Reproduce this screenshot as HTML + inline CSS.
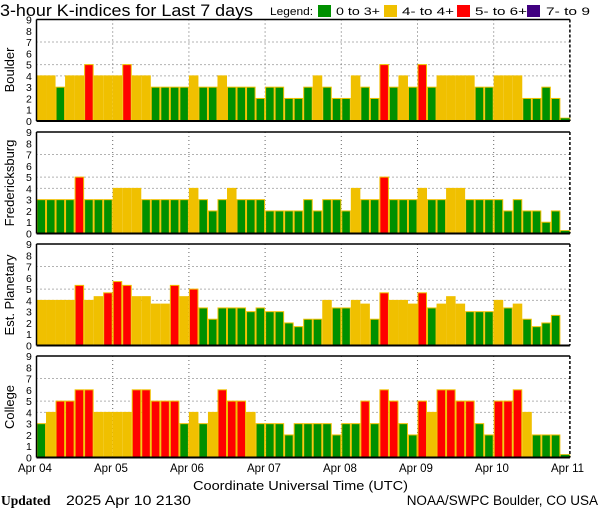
<!DOCTYPE html>
<html><head><meta charset="utf-8"><style>
body{margin:0;background:#fff;width:600px;height:510px;overflow:hidden}
svg{display:block}
text{font-family:"Liberation Sans",sans-serif;fill:#000}
</style></head><body>
<svg id="s" width="600" height="510" xmlns="http://www.w3.org/2000/svg">
<rect width="600" height="510" fill="#fff"/>
<text x="0" y="16" font-size="16.5" textLength="253" lengthAdjust="spacingAndGlyphs">3-hour K-indices for Last 7 days</text>
<text x="270" y="15" font-size="11" textLength="43" lengthAdjust="spacingAndGlyphs">Legend:</text>
<rect x="318" y="5" width="13" height="12" fill="#009000"/>
<text x="336" y="15" font-size="11" textLength="44" lengthAdjust="spacingAndGlyphs">0 to 3+</text>
<rect x="384" y="5" width="13" height="12" fill="#f0c000"/>
<text x="402" y="15" font-size="11" textLength="52" lengthAdjust="spacingAndGlyphs">4- to 4+</text>
<rect x="457" y="5" width="13" height="12" fill="#ff0000"/>
<text x="475" y="15" font-size="11" textLength="52" lengthAdjust="spacingAndGlyphs">5- to 6+</text>
<rect x="527" y="5" width="13" height="12" fill="#400080"/>
<text x="546" y="15" font-size="11" textLength="44" lengthAdjust="spacingAndGlyphs">7- to 9</text>
<g id="g"></g>
<g font-size="11.5">
<text x="18" y="472">Apr 04</text><text x="94" y="472">Apr 05</text><text x="170" y="472">Apr 06</text><text x="247" y="472">Apr 07</text><text x="323" y="472">Apr 08</text><text x="399" y="472">Apr 09</text><text x="475" y="472">Apr 10</text><text x="551" y="472">Apr 11</text>
</g>
<text x="193" y="490" font-size="13" textLength="215" lengthAdjust="spacingAndGlyphs">Coordinate Universal Time (UTC)</text>
<text x="1" y="505" font-size="13.5" font-weight="bold" style="font-family:'Liberation Serif',serif">Updated</text>
<text x="66" y="505" font-size="13.5" textLength="125" lengthAdjust="spacingAndGlyphs">2025 Apr 10 2130</text>
<text x="598" y="505" font-size="13.5" text-anchor="end">NOAA/SWPC Boulder, CO USA</text>
<text transform="translate(14,70) rotate(-90)" font-size="13" text-anchor="middle">Boulder</text>
<text transform="translate(14,183) rotate(-90)" font-size="13" text-anchor="middle">Fredericksburg</text>
<text transform="translate(14,295) rotate(-90)" font-size="13" text-anchor="middle">Est. Planetary</text>
<text transform="translate(14,407) rotate(-90)" font-size="13" text-anchor="middle">College</text>
</svg>
<script>
var data=[
[4,4,3,4,4,5,4,4, 4,5,4,4,3,3,3,3, 4,3,3,4,3,3,3,2, 3,3,2,2,3,4,3,2, 2,4,3,2,5,3,4,3, 5,3,4,4,4,4,3,3, 4,4,4,2,2,3,2,0.15],
[3,3,3,3,5,3,3,3, 4,4,4,3,3,3,3,3, 4,3,2,3,4,3,3,3, 2,2,2,2,3,2,3,3, 2,4,3,3,5,3,3,3, 4,3,3,4,4,3,3,3, 3,2,3,2,2,1,2,0.15],
[4,4,4,4,5.33,4,4.33,4.67, 5.67,5.33,4.33,4.33,3.67,3.67,5.33,4.33, 5,3.33,2.33,3.33,3.33,3.33,3,3.33, 3,3,2,1.67,2.33,2.33,4,3.33, 3.33,4,3.67,2.33,4.67,4,4,3.67, 4.67,3.33,3.67,4.33,3.67,3,3,3, 4,3.33,3.67,2.33,1.67,2,2.67,0],
[3,4,5,5,6,6,4,4, 4,4,6,6,5,5,5,3, 4,3,4,6,5,5,4,3, 3,3,2,3,3,3,3,2, 3,3,5,3,6,5,3,2, 5,4,6,6,5,5,3,2, 5,5,6,4,2,2,2,0.15]];
var tops=[19.5,132,244,356],x0=36.5,W=533.4,bw=W/56,H=101.5,u=H/9;
var s='';
for(var p=0;p<4;p++){var t=tops[p],b=t+H;
 for(var k=0;k<=9;k++){s+='<text x="26" y="'+(b-k*u+4)+'" font-size="10.5">'+k+'</text>';}
 [4,5,7].forEach(function(k){var y=b-k*u;s+='<line x1="'+x0+'" x2="'+(x0+W)+'" y1="'+y+'" y2="'+y+'" stroke="#666" stroke-dasharray="1,3"/>';});
 for(var d=1;d<7;d++){var x=x0+d*W/7;s+='<line x1="'+x+'" x2="'+x+'" y1="'+t+'" y2="'+b+'" stroke="#666" stroke-dasharray="1,3"/>';}
 for(var i=0;i<56;i++){var v=data[p][i];if(v<=0)continue;var h=v*u;
  var c=v>=4.6?'#ff0000':(v>=3.6?'#f0c000':'#009000');
  if(v<0.5){s+='<rect x="'+(x0+i*bw)+'" y="'+(b-3)+'" width="'+bw+'" height="3" fill="#009000" stroke="#f0c000" stroke-width="0.7"/>';continue;}
  s+='<rect x="'+(x0+i*bw+0.5)+'" y="'+(b-h)+'" width="'+(bw-1)+'" height="'+h+'" fill="'+c+'" stroke="#f0c000" stroke-width="1"/>';}
 s+='<line x1="'+x0+'" x2="'+(x0+W)+'" y1="'+t+'" y2="'+t+'" stroke="#000" stroke-width="1.5"/>';
 s+='<line x1="'+x0+'" x2="'+x0+'" y1="'+t+'" y2="'+b+'" stroke="#000" stroke-width="1.5"/>';
 s+='<line x1="'+(x0+W)+'" x2="'+(x0+W)+'" y1="'+t+'" y2="'+b+'" stroke="#000" stroke-width="1.5" stroke-dasharray="3,2"/>';
 s+='<line x1="'+x0+'" x2="'+(x0+W)+'" y1="'+b+'" y2="'+b+'" stroke="#000" stroke-width="2"/>';
}
document.getElementById('g').innerHTML=s;
</script>
</body></html>
